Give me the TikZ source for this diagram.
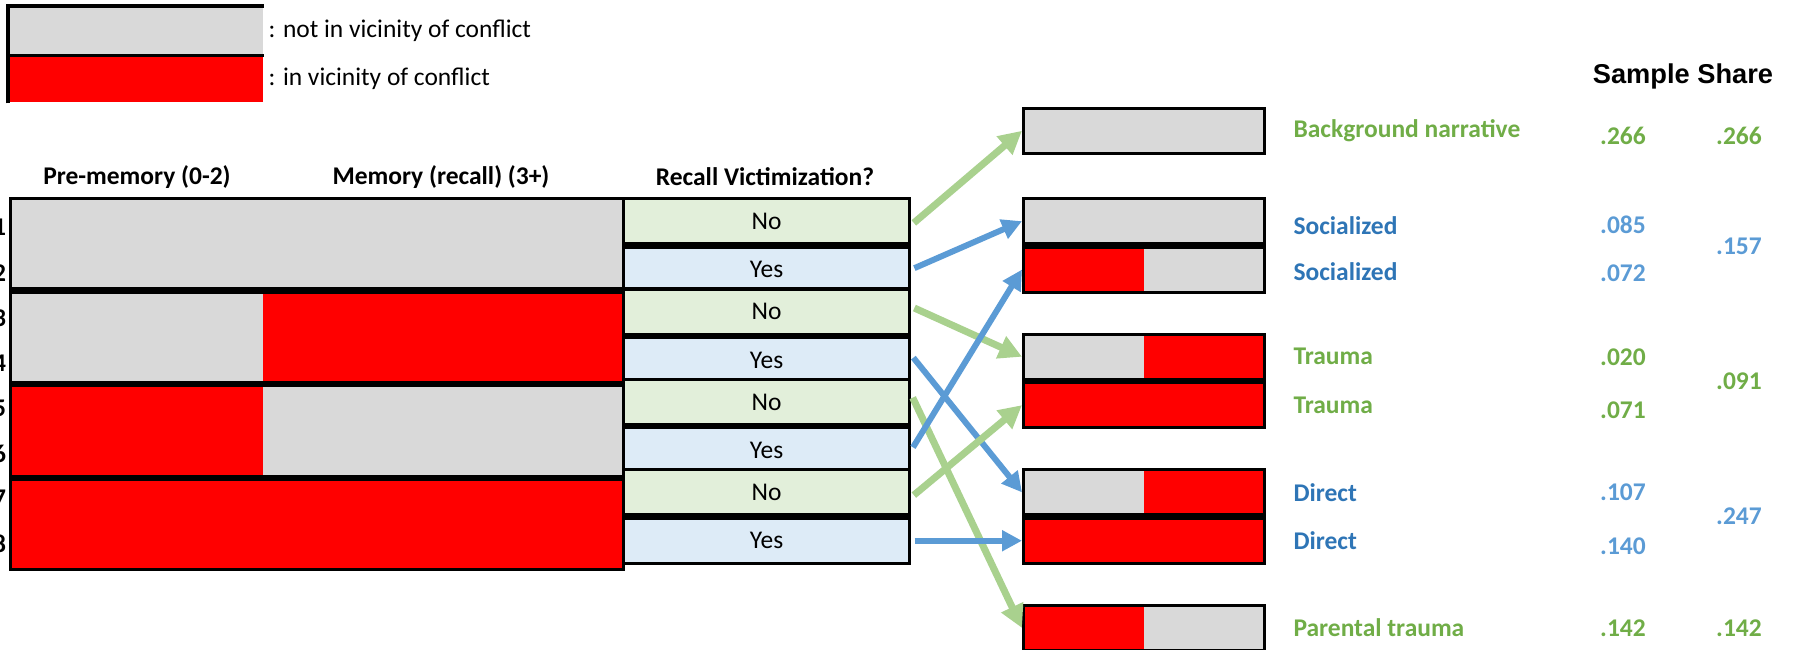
\documentclass[tikz,border=0pt]{standalone}
\usepackage{fontspec}
\setmainfont{Carlito}
\newfontfamily\arialfont{Liberation Sans}
\usetikzlibrary{arrows.meta, positioning, calc}
\definecolor{calm}{HTML}{D9D9D9}
\definecolor{confl}{HTML}{FF0000}
\definecolor{nofill}{HTML}{E2EFDA}
\definecolor{yesfill}{HTML}{DDEBF7}
\definecolor{garr}{HTML}{A9D18E}
\definecolor{barr}{HTML}{5B9BD5}
\definecolor{gtext}{HTML}{70AD47}
\definecolor{btext}{HTML}{2E75B6}

\begin{document}
\begin{tikzpicture}[font=\fontsize{14.5}{17}\selectfont, inner sep=0pt,
box/.style={draw, line width=1.8pt, anchor=north west, minimum height=0.904cm},
band/.style={box, minimum width=12.26cm, minimum height=1.808cm, fill=#1},
answer/.style={box, minimum width=5.72cm, fill=#1},
outcome/.style={box, minimum width=4.82cm, fill=#1},
leftpart/.style 2 args={path picture={\fill[#1] (path picture bounding box.south west) rectangle ([xshift=#2]path picture bounding box.north west);}},
head/.style={font=\fontsize{14.5}{17}\selectfont\bfseries},
glab/.style={head, text=gtext, anchor=west},
blab/.style={head, text=btext, anchor=west},
gnum/.style={head, text=gtext},
bnum/.style={head, text=barr},
garrow/.style={draw=garr, line width=4pt, -{Triangle[length=0.46cm,width=0.46cm]}},
barrow/.style={draw=barr, line width=3.4pt, -{Triangle[length=0.4cm,width=0.4cm]}}]
\useasboundingbox (0,0) rectangle (35.9,-13);

\node[box, draw=none, fill=calm, minimum width=5.06cm, minimum height=0.92cm] (legcalm) at (0.16,-0.12) {};
\node[box, draw=none, fill=confl, minimum width=5.06cm, minimum height=0.9cm] (legconfl) at (legcalm.south west) {};
\draw[line width=1.8pt] (legconfl.south west) |- (legcalm.north east);
\draw[line width=1.8pt] (legcalm.south west) -- (legcalm.south east);
\node[anchor=west] (legcalmtxt) at ([xshift=0.08cm]legcalm.east) {: not in vicinity of conflict};
\node[anchor=west] (legconfltxt) at ([xshift=0.08cm]legconfl.east) {: in vicinity of conflict};

\node[head] (hpre) at (2.74,-3.54) {Pre-memory (0-2)};
\node[head] (hmem) at (8.82,-3.54) {Memory (recall) (3+)};
\node[head] (hrec) at (15.30,-3.54) {Recall Victimization?};
\node[font=\fontsize{15.5}{18}\arialfont\bfseries] (share) at (33.66,-1.52) {Sample Share};

\node[band=calm] (band1) at (0.18,-3.94) {};
\node[band=confl, leftpart={calm}{5.04cm}] (band2) at (band1.south west) {};
\node[band=calm, leftpart={confl}{5.04cm}] (band3) at (band2.south west) {};
\node[band=confl] (band4) at (band3.south west) {};
\foreach \i/\t in {1/-3.94, 2/-5.748, 3/-7.556, 4/-9.364} {
  \node[answer=nofill] (no\i) at (12.44,\t) {No};
  \node[answer=yesfill] (yes\i) at (no\i.south west) {Yes};
}
\foreach \i in {1,...,8}
  \node[head, anchor=east] (row\i) at (0.13,{-4.55-0.904*(\i-1)}) {\i};

\node[outcome=calm] (bg) at (20.44,-2.132) {};
\node[outcome=calm] (soc1) at (20.44,-3.94) {};
\node[outcome=calm, leftpart={confl}{2.4cm}] (soc2) at (soc1.south west) {};
\node[outcome=confl, leftpart={calm}{2.4cm}] (tra1) at (20.44,-6.652) {};
\node[outcome=confl] (tra2) at (tra1.south west) {};
\node[outcome=confl, leftpart={calm}{2.4cm}] (dir1) at (20.44,-9.364) {};
\node[outcome=confl] (dir2) at (dir1.south west) {};
\node[outcome=calm, leftpart={confl}{2.4cm}] (par) at (20.44,-12.076) {};

\node[glab] (lbg) at ([xshift=0.54cm]bg.east) {Background narrative};
\node[blab] (lsoc1) at ([xshift=0.54cm,yshift=-0.08cm]soc1.east) {Socialized};
\node[blab] (lsoc2) at ([xshift=0.54cm,yshift=-0.04cm]soc2.east) {Socialized};
\node[glab] (ltra1) at ([xshift=0.54cm]tra1.east) {Trauma};
\node[glab] (ltra2) at ([xshift=0.54cm]tra2.east) {Trauma};
\node[blab] (ldir1) at ([xshift=0.54cm]dir1.east) {Direct};
\node[blab] (ldir2) at ([xshift=0.54cm]dir2.east) {Direct};
\node[glab] (lpar) at ([xshift=0.54cm]par.east) {Parental trauma};

\node[gnum] (sbg) at ([yshift=-0.1cm]32.46,0 |- lbg) {.266};
\node[bnum] (ssoc1) at (32.46,0 |- lsoc1) {.085};
\node[bnum] (ssoc2) at ([yshift=-0.04cm]32.46,0 |- lsoc2) {.072};
\node[gnum] (stra1) at (32.46,0 |- ltra1) {.020};
\node[gnum] (stra2) at ([yshift=-0.1cm]32.46,0 |- ltra2) {.071};
\node[bnum] (sdir1) at (32.46,0 |- ldir1) {.107};
\node[bnum] (sdir2) at ([yshift=-0.1cm]32.46,0 |- ldir2) {.140};
\node[gnum] (spar) at (32.46,0 |- lpar) {.142};
\node[gnum] (tbg) at (34.78,0 |- sbg) {.266};
\node[bnum] (tsoc) at ([yshift=-0.02cm]34.78,0 |- soc1.south) {.157};
\node[gnum] (ttra) at (34.78,0 |- tra1.south) {.091};
\node[bnum] (tdir) at (34.78,0 |- dir1.south) {.247};
\node[gnum] (tpar) at (34.78,0 |- spar) {.142};

\path[shorten <=2pt] ([yshift=-0.08cm]no1.east) edge[garrow] (bg.west)
  (yes1.east) edge[barrow] (soc1.west)
  ([yshift=0.1cm]no2.east) edge[garrow] (tra1.west)
  ([yshift=0.1cm]yes2.east) edge[barrow] (dir1.west)
  ([yshift=0.15cm]no3.east) edge[garrow] (par.west)
  (yes3.east) edge[barrow] (soc2.west)
  ([yshift=-0.1cm]no4.east) edge[garrow] (tra2.west)
  (yes4.east) edge[barrow] (dir2.west);
\end{tikzpicture}
\end{document}
